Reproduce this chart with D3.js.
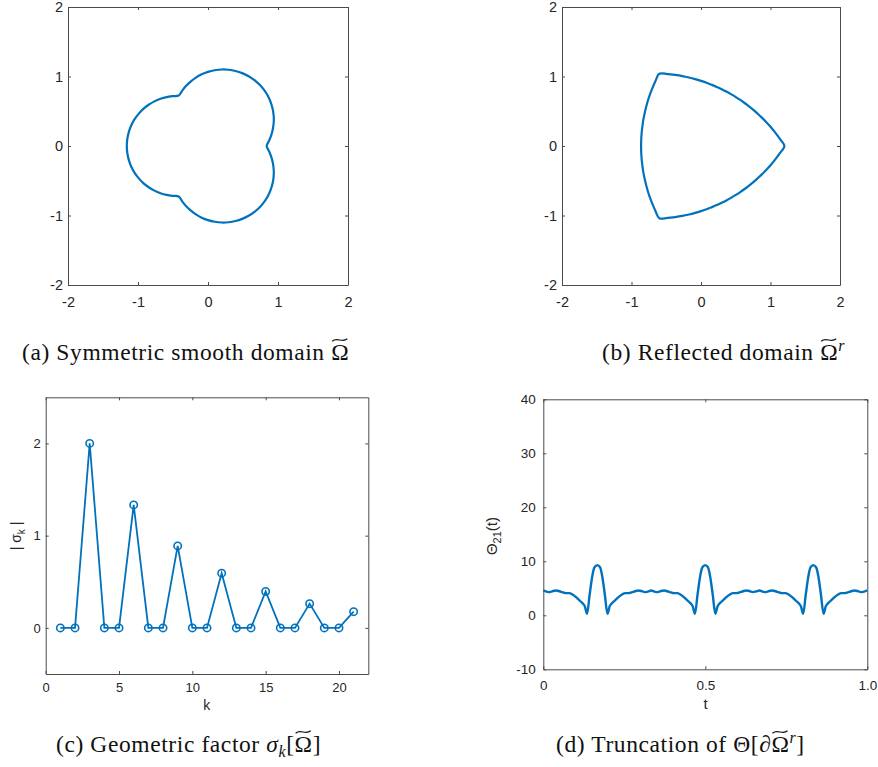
<!DOCTYPE html>
<html>
<head>
<meta charset="utf-8">
<script src="https://cdn.jsdelivr.net/npm/d3@7"></script>
<style>
  body { margin: 0; background: #fff; }
</style>
</head>
<body>
<div id="chart"></div>
<script>
// boundary of the domains, sampled in polar form every 5 degrees
const angleDeg = [0, 5, 10, 15, 20, 25, 30, 35, 40, 45, 50, 55, 60, 65, 70, 75, 80, 85, 90, 95, 100, 105, 110, 115,
  120, 125, 130, 135, 140, 145, 150, 155, 160, 165, 170, 175, 180, 185, 190, 195, 200, 205, 210, 215, 220, 225, 230, 235,
  240, 245, 250, 255, 260, 265, 270, 275, 280, 285, 290, 295, 300, 305, 310, 315, 320, 325, 330, 335, 340, 345, 350, 355];

// (a) symmetric smooth domain
const radiusA = [0.838, 0.876, 0.919, 0.960, 0.999, 1.035, 1.067, 1.094, 1.118, 1.136, 1.149, 1.157,
  1.160, 1.157, 1.149, 1.136, 1.118, 1.094, 1.067, 1.035, 0.999, 0.960, 0.919, 0.876,
  0.838, 0.876, 0.919, 0.960, 0.999, 1.035, 1.067, 1.094, 1.118, 1.136, 1.149, 1.157,
  1.160, 1.157, 1.149, 1.136, 1.118, 1.094, 1.067, 1.035, 0.999, 0.960, 0.919, 0.876,
  0.838, 0.876, 0.919, 0.960, 0.999, 1.035, 1.067, 1.094, 1.118, 1.136, 1.149, 1.157,
  1.160, 1.157, 1.149, 1.136, 1.118, 1.094, 1.067, 1.035, 0.999, 0.960, 0.919, 0.876];

// (b) reflected domain
const radiusB = [1.200, 1.142, 1.088, 1.042, 1.001, 0.966, 0.937, 0.914, 0.894, 0.880, 0.870, 0.864,
  0.862, 0.864, 0.870, 0.880, 0.894, 0.914, 0.937, 0.966, 1.001, 1.042, 1.088, 1.142,
  1.200, 1.142, 1.088, 1.042, 1.001, 0.966, 0.937, 0.914, 0.894, 0.880, 0.870, 0.864,
  0.862, 0.864, 0.870, 0.880, 0.894, 0.914, 0.937, 0.966, 1.001, 1.042, 1.088, 1.142,
  1.200, 1.142, 1.088, 1.042, 1.001, 0.966, 0.937, 0.914, 0.894, 0.880, 0.870, 0.864,
  0.862, 0.864, 0.870, 0.880, 0.894, 0.914, 0.937, 0.966, 1.001, 1.042, 1.088, 1.142];

const domainTicks = [-2, -1, 0, 1, 2];

// (c) geometric factor |sigma_k|
const kValues = [1, 2, 3, 4, 5, 6, 7, 8, 9, 10, 11, 12, 13, 14, 15, 16, 17, 18, 19, 20, 21];
const sigmaValues = [0, 0, 2.0, 0, 0, 1.333, 0, 0, 0.889, 0, 0, 0.593, 0, 0, 0.395, 0, 0, 0.263, 0, 0, 0.176];
const sigmaXTicks = [0, 5, 10, 15, 20];
const sigmaYTicks = [0, 1, 2];

// (d) truncation Theta_21(t)
const thetaT = [0, 0.010, 0.020, 0.030, 0.040, 0.050, 0.060, 0.070, 0.080, 0.090, 0.100, 0.110,
  0.120, 0.128, 0.135, 0.143, 0.151, 0.158, 0.167, 0.175, 0.182, 0.190, 0.198, 0.205,
  0.213, 0.223, 0.233, 0.243, 0.253, 0.263, 0.273, 0.283, 0.293, 0.303, 0.313, 0.323,
  0.333, 0.343, 0.353, 0.363, 0.373, 0.383, 0.393, 0.403, 0.413, 0.423, 0.433, 0.443,
  0.453, 0.461, 0.468, 0.476, 0.484, 0.491, 0.500, 0.508, 0.515, 0.523, 0.531, 0.538,
  0.546, 0.556, 0.566, 0.576, 0.586, 0.596, 0.606, 0.616, 0.626, 0.636, 0.646, 0.656,
  0.667, 0.677, 0.687, 0.697, 0.707, 0.717, 0.727, 0.737, 0.747, 0.757, 0.767, 0.777,
  0.787, 0.795, 0.802, 0.810, 0.818, 0.825, 0.833, 0.842, 0.849, 0.857, 0.865, 0.872,
  0.880, 0.890, 0.900, 0.910, 0.920, 0.930, 0.940, 0.950, 0.960, 0.970, 0.980, 0.990, 1.000];
const thetaValues = [4.60, 4.40, 4.30, 4.50, 4.60, 4.45, 4.25, 4.10, 4.10, 3.85, 3.40, 2.85,
  2.30, 1.70, 0.30, 3.80, 7.20, 8.90, 9.30, 8.90, 7.20, 3.80, 0.30, 1.70,
  2.30, 2.85, 3.40, 3.85, 4.10, 4.10, 4.25, 4.45, 4.60, 4.50, 4.30, 4.40,
  4.60, 4.40, 4.30, 4.50, 4.60, 4.45, 4.25, 4.10, 4.10, 3.85, 3.40, 2.85,
  2.30, 1.70, 0.30, 3.80, 7.20, 8.90, 9.30, 8.90, 7.20, 3.80, 0.30, 1.70,
  2.30, 2.85, 3.40, 3.85, 4.10, 4.10, 4.25, 4.45, 4.60, 4.50, 4.30, 4.40,
  4.60, 4.40, 4.30, 4.50, 4.60, 4.45, 4.25, 4.10, 4.10, 3.85, 3.40, 2.85,
  2.30, 1.70, 0.30, 3.80, 7.20, 8.90, 9.30, 8.90, 7.20, 3.80, 0.30, 1.70,
  2.30, 2.85, 3.40, 3.85, 4.10, 4.10, 4.25, 4.45, 4.60, 4.50, 4.30, 4.40, 4.60];
const thetaXTicks = [0, 0.5, 1];
const thetaXLabels = ['0', '0.5', '1.0'];
const thetaYTicks = [-10, 0, 10, 20, 30, 40];

const blue = '#0072BD';
const boxColor = '#4a4a4a';
const labelColor = '#262626';
const sans = 'Liberation Sans, Arial, sans-serif';
const serif = 'Liberation Serif, Times New Roman, serif';

const svg = d3.select('#chart')
  .append('svg')
  .attr('width', 878)
  .attr('height', 767);

// box with inward ticks on all four sides, like matlab's "box on"
const drawFrame = (x, y, o) => {
  const g = svg.append('g');
  const bottom = y.range()[0];
  const top = y.range()[1];
  const left = x.range()[0];
  const right = x.range()[1];

  g.append('g')
    .attr('transform', `translate(0,${bottom})`)
    .call(d3.axisBottom(x).tickValues(o.xTicks)
      .tickFormat((d, i) => (o.xLabels ? o.xLabels[i] : String(d)))
      .tickSizeInner(-o.tick).tickSizeOuter(0).tickPadding(o.xPad));
  g.append('g')
    .attr('transform', `translate(0,${top})`)
    .call(d3.axisTop(x).tickValues(o.xTicks).tickFormat('')
      .tickSizeInner(-o.tick).tickSizeOuter(0));
  g.append('g')
    .attr('transform', `translate(${left},0)`)
    .call(d3.axisLeft(y).tickValues(o.yTicks).tickFormat((d) => String(d))
      .tickSizeInner(-o.tick).tickSizeOuter(0).tickPadding(o.yPad));
  g.append('g')
    .attr('transform', `translate(${right},0)`)
    .call(d3.axisRight(y).tickValues(o.yTicks).tickFormat('')
      .tickSizeInner(-o.tick).tickSizeOuter(0));

  g.selectAll('.domain, .tick line')
    .attr('stroke', boxColor)
    .attr('stroke-width', 1);
  g.selectAll('.tick text')
    .attr('fill', labelColor)
    .attr('font-family', sans)
    .attr('font-size', o.fontSize);
  return g;
};

/*
  (a) and (b): closed domain boundaries
*/
const polarPanel = (radii, xRange) => {
  const x = d3.scaleLinear().domain([-2, 2]).range(xRange);
  const y = d3.scaleLinear().domain([-2, 2]).range([285, 7]);
  drawFrame(x, y, { xTicks: domainTicks, yTicks: domainTicks, tick: 3, xPad: 12, yPad: 5, fontSize: 14.5 });

  const pts = angleDeg.map((a, i) => [
    radii[i] * Math.cos((a * Math.PI) / 180),
    radii[i] * Math.sin((a * Math.PI) / 180),
  ]);
  svg.append('path')
    .datum(pts)
    .attr('fill', 'none')
    .attr('stroke', blue)
    .attr('stroke-width', 2.2)
    .attr('d', d3.line()
      .x((d) => x(d[0]))
      .y((d) => y(d[1]))
      .curve(d3.curveCatmullRomClosed.alpha(0.5)));
};

polarPanel(radiusA, [68, 348]);
polarPanel(radiusB, [562, 840]);

/*
  (c): |sigma_k|
*/
const xC = d3.scaleLinear().domain([0, 22]).range([45.7, 368.3]);
const yC = d3.scaleLinear().domain([-0.5, 2.5]).range([674, 397.3]);
drawFrame(xC, yC, { xTicks: sigmaXTicks, yTicks: sigmaYTicks, tick: 3, xPad: 9, yPad: 5, fontSize: 13 });

const sigmaData = kValues.map((k, i) => ({ k, v: sigmaValues[i] }));
svg.append('path')
  .datum(sigmaData)
  .attr('fill', 'none')
  .attr('stroke', blue)
  .attr('stroke-width', 1.8)
  .attr('d', d3.line().x((d) => xC(d.k)).y((d) => yC(d.v)));
svg.append('g')
  .selectAll('circle')
  .data(sigmaData)
  .join('circle')
  .attr('cx', (d) => xC(d.k))
  .attr('cy', (d) => yC(d.v))
  .attr('r', 3.7)
  .attr('fill', 'none')
  .attr('stroke', blue)
  .attr('stroke-width', 1.6);

svg.append('text')
  .attr('x', 206.7)
  .attr('y', 710)
  .attr('text-anchor', 'middle')
  .attr('font-family', sans)
  .attr('font-size', 14)
  .attr('fill', labelColor)
  .text('k');

const sigLabel = svg.append('text')
  .attr('transform', 'translate(21,536) rotate(-90)')
  .attr('text-anchor', 'middle')
  .attr('font-family', sans)
  .attr('font-size', 14)
  .attr('fill', labelColor);
sigLabel.append('tspan').text('|\u00a0σ');
sigLabel.append('tspan').attr('dy', 4).attr('font-size', 10).text('k');
sigLabel.append('tspan').attr('dy', -4).text('\u00a0|');

/*
  (d): Theta_21(t)
*/
const xD = d3.scaleLinear().domain([0, 1]).range([543.3, 867.3]);
const yD = d3.scaleLinear().domain([-10, 40]).range([669.3, 399.3]);
drawFrame(xD, yD, {
  xTicks: thetaXTicks, xLabels: thetaXLabels, yTicks: thetaYTicks, tick: 3, xPad: 11, yPad: 7.5, fontSize: 13.5,
});

svg.append('path')
  .datum(thetaT.map((t, i) => ({ t, v: thetaValues[i] })))
  .attr('fill', 'none')
  .attr('stroke', blue)
  .attr('stroke-width', 2.4)
  .attr('stroke-linejoin', 'round')
  .attr('d', d3.line().x((d) => xD(d.t)).y((d) => yD(d.v)).curve(d3.curveMonotoneX));

svg.append('text')
  .attr('x', 705.5)
  .attr('y', 709)
  .attr('text-anchor', 'middle')
  .attr('font-family', sans)
  .attr('font-size', 15)
  .attr('fill', labelColor)
  .text('t');

const thLabel = svg.append('text')
  .attr('transform', 'translate(497,536) rotate(-90)')
  .attr('text-anchor', 'middle')
  .attr('font-family', sans)
  .attr('font-size', 15)
  .attr('fill', labelColor);
thLabel.append('tspan').text('Θ');
thLabel.append('tspan').attr('dy', 4).attr('font-size', 11).text('21');
thLabel.append('tspan').attr('dy', -4).text('(t)');

/*
  captions (each Ω gets a wide tilde stroke above it)
*/
const caption = (x, y, parts) => {
  const t = svg.append('text')
    .attr('x', x)
    .attr('y', y)
    .attr('font-family', serif)
    .attr('font-size', 23.5)
    .attr('letter-spacing', 0.6)
    .attr('fill', '#111');
  parts.forEach((p) => {
    const s = t.append('tspan').text(p.text);
    if (p.italic) s.attr('font-style', 'italic');
    if (p.dy) s.attr('dy', p.dy);
    if (p.size) s.attr('font-size', p.size);
  });
  const full = parts.map((p) => p.text).join('');
  [...full].forEach((ch, i) => {
    if (ch !== 'Ω') return;
    const box = t.node().getExtentOfChar(i);
    const w = box.width - 3;
    const x0 = box.x + 1;
    const y0 = box.y + 1;
    svg.append('path')
      .attr('d', `M${x0},${y0 + 1.2} C${x0 + w / 3},${y0 - 3.5} ${x0 + (2 * w) / 3},${y0 + 3.5} ${x0 + w},${y0 - 1.2}`)
      .attr('fill', 'none')
      .attr('stroke', '#111')
      .attr('stroke-width', 1.2);
  });
};

caption(22, 360, [{ text: '(a) Symmetric smooth domain Ω' }]);
caption(602, 360, [
  { text: '(b) Reflected domain Ω' },
  { text: 'r', italic: true, dy: -9, size: 16 },
]);
caption(56, 752, [
  { text: '(c) Geometric factor ' },
  { text: 'σ', italic: true },
  { text: 'k', italic: true, dy: 5, size: 16 },
  { text: '[Ω]', dy: -5 },
]);
caption(556, 752, [
  { text: '(d) Truncation of Θ[∂Ω' },
  { text: 'r', italic: true, dy: -9, size: 16 },
  { text: ']', dy: 9 },
]);
</script>
</body>
</html>
